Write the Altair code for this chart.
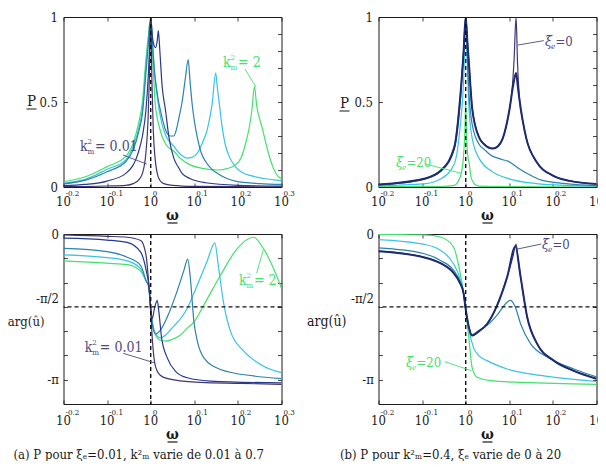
import math
import altair as alt
import pandas as pd

PI = math.pi
W, H = 218, 170
FONT = "DejaVu Serif Condensed, DejaVu Serif"
INK = "#1a1a1a"

C_PURPLE = "#3f3576"
C_NAVY = "#253a8c"
C_NAVY2 = "#1d2b73"
C_TEAL = "#2b82aa"
C_CYAN = "#37c3e4"
C_GREEN = "#43e16d"
C_LAB1 = "#4d4a80"

# ---------- x ticks (log10 of omega) ----------
tick_u = [-0.2, -0.1, 0.0, 0.1, 0.2, 0.3]
tick_exp = ["-0.2", "-0.1", "0", "0.1", "0.2", "0.3"]

# ---------- panel (a) top : P ----------
a1_u = [-0.2, -0.15, -0.1, -0.057, -0.04, -0.0265, -0.019, -0.011, -0.006, -0.003, 0.0, 0.003, 0.006, 0.01, 0.015, 0.021, 0.03, 0.05, 0.1, 0.2, 0.3]
a1_p = [0.002, 0.003, 0.006, 0.01, 0.02, 0.045, 0.08, 0.2, 0.4, 0.65, 1.0, 0.6, 0.33, 0.17, 0.08, 0.04, 0.02, 0.01, 0.004, 0.002, 0.001]
a2_u = [-0.2, -0.15, -0.1, -0.057, -0.0265, -0.019, -0.011, -0.005, -0.002, 0.0, 0.004, 0.008, 0.011, 0.015, 0.0176, 0.021, 0.026, 0.034, 0.042, 0.053, 0.065, 0.072, 0.09, 0.126, 0.2, 0.3]
a2_p = [0.008, 0.015, 0.035, 0.08, 0.22, 0.3, 0.45, 0.68, 0.85, 1.0, 0.88, 0.83, 0.82, 0.86, 0.92, 0.8, 0.6, 0.45, 0.29, 0.17, 0.11, 0.08, 0.05, 0.025, 0.01, 0.005]
a3_u = [-0.2, -0.15, -0.1, -0.057, -0.04, -0.0265, -0.019, -0.011, -0.005, 0.0, 0.004, 0.008, 0.015, 0.025, 0.035, 0.045, 0.053, 0.058, 0.065, 0.072, 0.08, 0.086, 0.09, 0.095, 0.1, 0.107, 0.116, 0.126, 0.14, 0.156, 0.175, 0.194, 0.25, 0.3]
a3_p = [0.018, 0.04, 0.09, 0.15, 0.22, 0.335, 0.43, 0.67, 0.85, 1.0, 0.85, 0.7, 0.55, 0.42, 0.33, 0.3, 0.3, 0.33, 0.41, 0.5, 0.65, 0.75, 0.63, 0.49, 0.39, 0.29, 0.2, 0.15, 0.105, 0.075, 0.05, 0.035, 0.02, 0.015]
a4_u = [-0.2, -0.15, -0.1, -0.057, -0.04, -0.0265, -0.019, -0.011, -0.005, 0.0, 0.004, 0.008, 0.015, 0.025, 0.035, 0.053, 0.065, 0.075, 0.083, 0.095, 0.107, 0.117, 0.13, 0.141, 0.149, 0.153, 0.156, 0.163, 0.171, 0.18, 0.194, 0.21, 0.232, 0.26, 0.3]
a4_p = [0.022, 0.045, 0.104, 0.16, 0.24, 0.355, 0.46, 0.71, 0.88, 0.99, 0.85, 0.7, 0.53, 0.38, 0.3, 0.24, 0.2, 0.18, 0.17, 0.175, 0.2, 0.25, 0.34, 0.49, 0.67, 0.58, 0.52, 0.37, 0.25, 0.18, 0.12, 0.085, 0.065, 0.05, 0.037]
a5_u = [-0.2, -0.15, -0.1, -0.057, -0.04, -0.0265, -0.019, -0.011, -0.005, -0.002, 0.002, 0.006, 0.01, 0.02, 0.035, 0.053, 0.072, 0.09, 0.118, 0.156, 0.175, 0.194, 0.207, 0.217, 0.226, 0.232, 0.238, 0.243, 0.255, 0.263, 0.27, 0.28, 0.293, 0.3]
a5_p = [0.031, 0.06, 0.12, 0.18, 0.26, 0.39, 0.5, 0.75, 0.9, 0.97, 0.9, 0.7, 0.5, 0.35, 0.25, 0.21, 0.16, 0.13, 0.11, 0.1, 0.108, 0.13, 0.17, 0.25, 0.35, 0.45, 0.59, 0.48, 0.355, 0.27, 0.2, 0.12, 0.06, 0.05]

# ---------- panel (a) bottom : arg(u) ----------
b1_u = [-0.2, -0.1, -0.054, -0.023, -0.015, -0.0096, -0.005, -0.0005, 0.004, 0.0087, 0.0156, 0.027, 0.057, 0.114, 0.2, 0.3]
b1_v = [-0.02, -0.05, -0.07, -0.14, -0.28, -0.53, -1.0, -1.57, -2.3, -2.75, -2.97, -3.08, -3.15, -3.2, -3.22, -3.24]
b2_u = [-0.2, -0.1, -0.054, -0.023, -0.0096, -0.0044, -0.0005, 0.0034, 0.0087, 0.015, 0.019, 0.025, 0.038, 0.057, 0.084, 0.137, 0.3]
b2_v = [-0.09, -0.13, -0.18, -0.39, -0.82, -1.1, -1.5, -1.83, -1.6, -1.43, -1.7, -2.24, -2.67, -2.96, -3.1, -3.17, -3.21]
b3_u = [-0.2, -0.1, -0.054, -0.023, -0.0096, -0.0044, -0.0005, 0.004, 0.011, 0.02, 0.038, 0.061, 0.076, 0.085, 0.091, 0.099, 0.107, 0.122, 0.16, 0.236, 0.3]
b3_v = [-0.31, -0.38, -0.5, -0.68, -1.03, -1.15, -1.6, -1.95, -2.16, -2.1, -1.79, -1.22, -0.79, -0.54, -0.96, -1.88, -2.31, -2.67, -2.92, -3.06, -3.12]
b4_u = [-0.2, -0.1, -0.054, -0.023, -0.0096, -0.0044, -0.0005, 0.006, 0.015, 0.0225, 0.035, 0.045, 0.084, 0.107, 0.13, 0.147, 0.156, 0.168, 0.183, 0.214, 0.259, 0.3]
b4_v = [-0.45, -0.51, -0.58, -0.75, -1.03, -1.1, -1.6, -2.0, -2.2, -2.24, -2.17, -2.07, -1.6, -1.1, -0.57, -0.19, -0.75, -1.53, -2.1, -2.53, -2.85, -2.99]
b5_u = [-0.2, -0.1, -0.054, -0.023, -0.0096, -0.0044, -0.0005, 0.008, 0.02, 0.035, 0.05, 0.065, 0.084, 0.099, 0.122, 0.16, 0.198, 0.236, 0.259, 0.282, 0.3]
b5_v = [-0.58, -0.63, -0.66, -0.8, -1.03, -1.1, -1.65, -2.1, -2.28, -2.31, -2.27, -2.2, -2.03, -1.9, -1.53, -0.89, -0.32, -0.07, -0.32, -0.75, -1.17]

# ---------- panel (b) top : P ----------
c1_u = [-0.2, -0.096, -0.057, -0.026, -0.0125, -0.005, 0.0, 0.004, 0.0076, 0.015, 0.031, 0.043, 0.062, 0.074, 0.085, 0.1, 0.106, 0.111, 0.1155, 0.119, 0.124, 0.13, 0.139, 0.162, 0.2, 0.239, 0.3]
c1_p = [0.014, 0.048, 0.097, 0.236, 0.53, 0.79, 1.0, 0.85, 0.72, 0.46, 0.29, 0.25, 0.226, 0.24, 0.286, 0.45, 0.56, 0.75, 1.0, 0.72, 0.5, 0.4, 0.286, 0.15, 0.067, 0.036, 0.018]
c2_u = [-0.2, -0.096, -0.057, -0.026, -0.0125, -0.005, 0.0, 0.004, 0.0076, 0.015, 0.031, 0.043, 0.062, 0.074, 0.085, 0.1, 0.109, 0.1155, 0.12, 0.123, 0.139, 0.162, 0.2, 0.239, 0.3]
c2_p = [0.014, 0.048, 0.097, 0.236, 0.53, 0.79, 1.0, 0.85, 0.72, 0.46, 0.29, 0.25, 0.226, 0.24, 0.286, 0.45, 0.6, 0.67, 0.58, 0.52, 0.286, 0.15, 0.067, 0.036, 0.018]
c3_u = [-0.2, -0.096, -0.057, -0.026, -0.0125, -0.005, 0.0, 0.004, 0.0076, 0.015, 0.031, 0.043, 0.062, 0.074, 0.085, 0.097, 0.105, 0.12, 0.143, 0.174, 0.235, 0.3]
c3_p = [0.013, 0.045, 0.092, 0.225, 0.5, 0.78, 1.0, 0.75, 0.55, 0.365, 0.25, 0.22, 0.18, 0.17, 0.16, 0.152, 0.14, 0.112, 0.077, 0.04, 0.018, 0.008]
c4_u = [-0.2, -0.096, -0.057, -0.026, -0.0125, -0.005, 0.0, 0.004, 0.0076, 0.015, 0.031, 0.062, 0.1, 0.162, 0.2, 0.3]
c4_p = [0.008, 0.018, 0.048, 0.137, 0.36, 0.61, 0.97, 0.7, 0.46, 0.286, 0.167, 0.089, 0.048, 0.02, 0.012, 0.005]
c5_u = [-0.2, -0.096, -0.057, -0.026, -0.0125, -0.005, -0.002, 0.0, 0.002, 0.005, 0.008, 0.012, 0.02, 0.031, 0.1, 0.3]
c5_p = [0.002, 0.002, 0.003, 0.01, 0.06, 0.18, 0.32, 0.5, 0.3, 0.18, 0.14, 0.06, 0.018, 0.005, 0.002, 0.001]

# ---------- panel (b) bottom : arg(u) ----------
d1_u = [-0.2, -0.097, -0.058, -0.028, -0.014, -0.0046, -0.0007, 0.007, 0.0145, 0.03, 0.049, 0.072, 0.095, 0.108, 0.1155, 0.121, 0.126, 0.141, 0.164, 0.202, 0.248, 0.3]
d1_v = [-0.37, -0.5, -0.63, -0.84, -1.04, -1.29, -1.57, -2.0, -2.19, -2.1, -1.94, -1.54, -0.93, -0.5, -0.22, -0.6, -0.93, -1.79, -2.37, -2.73, -2.95, -3.12]
d2_u = [-0.2, -0.097, -0.058, -0.028, -0.014, -0.0046, -0.0007, 0.007, 0.0145, 0.03, 0.049, 0.072, 0.095, 0.114, 0.126, 0.141, 0.164, 0.202, 0.248, 0.3]
d2_v = [-0.37, -0.5, -0.63, -0.84, -1.04, -1.29, -1.57, -2.0, -2.19, -2.1, -1.94, -1.54, -0.93, -0.27, -0.93, -1.79, -2.37, -2.73, -2.95, -3.12]
d3_u = [-0.2, -0.097, -0.058, -0.028, -0.014, -0.0046, -0.0007, 0.007, 0.0145, 0.03, 0.049, 0.072, 0.095, 0.103, 0.114, 0.126, 0.149, 0.187, 0.248, 0.3]
d3_v = [-0.30, -0.42, -0.57, -0.78, -1.0, -1.29, -1.57, -2.0, -2.17, -2.08, -1.97, -1.75, -1.47, -1.43, -1.58, -1.94, -2.37, -2.65, -2.91, -3.08]
d4_u = [-0.2, -0.097, -0.058, -0.028, -0.014, -0.0046, -0.0007, 0.007, 0.018, 0.03, 0.049, 0.095, 0.172, 0.3]
d4_v = [-0.12, -0.22, -0.35, -0.64, -0.93, -1.29, -1.57, -2.05, -2.45, -2.62, -2.73, -2.91, -3.05, -3.18]
d5_u = [-0.2, -0.097, -0.058, -0.028, -0.014, -0.0046, -0.0007, 0.007, 0.0145, 0.026, 0.057, 0.133, 0.3]
d5_v = [-0.01, -0.02, -0.065, -0.28, -0.78, -1.29, -1.6, -2.22, -2.87, -3.09, -3.16, -3.2, -3.24]

# ---------- annotations (data coordinates) ----------
ann_a_top_lo = (-0.162, 0.212)
ptr_a_top_lo = ([-0.0635, -0.009], [0.188, 0.135])
ann_a_top_hi = (0.166, 0.706)
ptr_a_top_hi = ([0.216, 0.2415], [0.694, 0.588])
ann_a_bot_lo = (-0.151, -2.544)
ptr_a_bot_lo = ([-0.063, 0.0076], [-2.572, -2.775])
ann_a_bot_hi = (0.2025, -1.10)
ptr_a_bot_hi = ([0.243, 0.258], [-0.847, -0.345])
ann_b_top_0 = (0.182, 0.829)
ptr_b_top_0 = ([0.179, 0.12], [0.861, 0.835])
ann_b_top_20 = (-0.16, 0.118)
ptr_b_top_20 = ([-0.0917, -0.0108], [0.135, 0.081])
ann_b_bot_0 = (0.175, -0.323)
ptr_b_bot_0 = ([0.1734, 0.116], [-0.216, -0.33])
ann_b_bot_20 = (-0.137, -2.867)
ptr_b_bot_20 = ([-0.048, 0.013], [-2.753, -2.947])

XS = alt.Scale(domain=[-0.2, 0.3], nice=False, zero=False)
YS_P = alt.Scale(domain=[0, 1], nice=False, zero=False)
YS_A = alt.Scale(domain=[-7 * PI / 6, 0], nice=False, zero=False)


def ax(orient, values, labels=False, **kw):
    return alt.Axis(orient=orient, values=values, labels=labels, ticks=True,
                    tickSize=4, offset=-4, domain=False, grid=False, title=None,
                    tickColor=INK, tickWidth=0.8, labelOverlap=False, **kw)


def curve(u, v, color, ys, width=1.2, xaxis=None, yaxis=None):
    df = pd.DataFrame({"u": u, "v": v})
    return alt.Chart(df).mark_line(color=color, strokeWidth=width,
                                   interpolate="monotone", clip=True).encode(
        x=alt.X("u:Q", scale=XS, axis=xaxis),
        y=alt.Y("v:Q", scale=ys, axis=yaxis))


def pointer(p, color, ys):
    df = pd.DataFrame({"u": p[0], "v": p[1]})
    return alt.Chart(df).mark_line(color=color, strokeWidth=0.9).encode(
        x=alt.X("u:Q", scale=XS, axis=None),
        y=alt.Y("v:Q", scale=ys, axis=None))


def txt_at(pos, s, color, ys, size=13, dx=0, dy=0, style="normal"):
    df = pd.DataFrame({"u": [pos[0]], "v": [pos[1]], "t": [s]})
    return alt.Chart(df).mark_text(font=FONT, fontSize=size, color=color, align="left",
                                   baseline="alphabetic", dx=dx, dy=dy,
                                   fontStyle=style).encode(
        x=alt.X("u:Q", scale=XS, axis=None),
        y=alt.Y("v:Q", scale=ys, axis=None), text="t:N")


def km_label(pos, val, color, ys):
    return [txt_at(pos, "k", color, ys, 14),
            txt_at(pos, "2", color, ys, 8, dx=7.5, dy=-7),
            txt_at(pos, "m", color, ys, 8, dx=7.5, dy=3),
            txt_at(pos, "= " + val, color, ys, 14, dx=15)]


def xi_label(pos, val, color, ys):
    return [txt_at(pos, "ξ", color, ys, 14, style="italic"),
            txt_at(pos, "e", color, ys, 8, dx=6, dy=3, style="italic"),
            txt_at(pos, "=" + val, color, ys, 13, dx=10.5)]


def pix_text(s, x, y, size=13, align="left", baseline="alphabetic", weight="normal",
             color=INK, style="normal"):
    df = pd.DataFrame({"t": [s]})
    return alt.Chart(df).mark_text(font=FONT, fontSize=size, align=align, baseline=baseline,
                                   fontWeight=weight, color=color, fontStyle=style).encode(
        x=alt.value(x), y=alt.value(y), text="t:N")


def underline(x1, x2, y, width=1.2):
    return alt.Chart(pd.DataFrame({"k": [0]})).mark_rule(color=INK, strokeWidth=width).encode(
        x=alt.value(x1), x2=alt.value(x2), y=alt.value(y))


def xlabels(yb, ye):
    df = pd.DataFrame({"u": tick_u, "e": tick_exp})
    base = alt.Chart(df)
    t10 = base.mark_text(text="10", font=FONT, fontSize=13, align="center",
                         baseline="alphabetic", color=INK).encode(
        x=alt.X("u:Q", scale=XS, axis=None), y=alt.value(yb))
    te = base.mark_text(font=FONT, fontSize=8, align="left", baseline="alphabetic",
                        dx=2, color=INK).encode(
        x=alt.X("u:Q", scale=XS, axis=None), y=alt.value(ye), text="e:N")
    return [t10, te]


def vdash():
    return alt.Chart(pd.DataFrame({"u": [0.0]})).mark_rule(
        color="#111", strokeWidth=1.4, strokeDash=[4, 3]).encode(
        x=alt.X("u:Q", scale=XS, axis=None))


def hdash():
    return alt.Chart(pd.DataFrame({"v": [-PI / 2]})).mark_rule(
        color="#111", strokeWidth=1.4, strokeDash=[4, 3]).encode(
        y=alt.Y("v:Q", scale=YS_A, axis=None))


def omega_title(y):
    return [pix_text("ω", W / 2, y, size=15, align="center", weight="bold"),
            underline(W / 2 - 5, W / 2 + 5, y + 3)]


def p_title(x, y):
    return [pix_text("P", x, y, size=15, align="center"),
            underline(x - 5, x + 5, y + 3, 1.0)]


p_left = ax("left", [0, 0.5, 1], labels=True, labelFont=FONT, labelFontSize=13,
            labelPadding=6, labelColor=INK, format="~g")
p_right = ax("right", [i / 10 for i in range(11)])
a_vals = [-k * PI / 6 for k in range(8)]
a_left = ax("left", a_vals, labels=True, labelFont=FONT, labelFontSize=13, labelPadding=5,
            labelColor=INK,
            labelExpr="abs(datum.value) < 0.01 ? '0' : abs(datum.value + 1.5708) < 0.01 ? '-π/2' : abs(datum.value + 3.1416) < 0.01 ? '-π' : ''",
            labelOffset={"condition": {"test": "abs(datum.value + 1.5708) < 0.01", "value": -8}, "value": 0})
a_right = ax("right", a_vals)
x_bot = ax("bottom", tick_u)
x_top = ax("top", tick_u)


def panel(layers):
    return alt.layer(*layers).resolve_axis(x="independent", y="independent").properties(width=W, height=H)


# ---- (a) top
a_top = panel([
    curve(a5_u, a5_p, C_GREEN, YS_P, xaxis=x_bot, yaxis=p_left),
    curve(a4_u, a4_p, C_CYAN, YS_P, xaxis=x_top, yaxis=p_right),
    curve(a3_u, a3_p, C_TEAL, YS_P),
    curve(a2_u, a2_p, C_NAVY, YS_P),
    curve(a1_u, a1_p, C_PURPLE, YS_P),
    vdash(),
    pointer(ptr_a_top_lo, C_LAB1, YS_P),
    pointer(ptr_a_top_hi, C_GREEN, YS_P),
    *km_label(ann_a_top_lo, "0.01", C_LAB1, YS_P),
    *km_label(ann_a_top_hi, "2", C_GREEN, YS_P),
    *xlabels(H + 19, H + 9),
    *p_title(-32, 89),
    *omega_title(H + 33),
])

# ---- (b) top
b_top = panel([
    curve(c5_u, c5_p, C_GREEN, YS_P, xaxis=x_bot, yaxis=p_left),
    curve(c4_u, c4_p, C_CYAN, YS_P, xaxis=x_top, yaxis=p_right),
    curve(c3_u, c3_p, C_TEAL, YS_P),
    curve(c1_u, c1_p, C_PURPLE, YS_P),
    curve(c2_u, c2_p, C_NAVY2, YS_P, width=2),
    vdash(),
    pointer(ptr_b_top_0, C_LAB1, YS_P),
    pointer(ptr_b_top_20, C_GREEN, YS_P),
    *xi_label(ann_b_top_0, "0", C_LAB1, YS_P),
    *xi_label(ann_b_top_20, "20", C_GREEN, YS_P),
    *xlabels(H + 19, H + 9),
    *p_title(-34, 91),
    *omega_title(H + 33),
])

# ---- (a) bottom
a_bot = panel([
    curve(b5_u, b5_v, C_GREEN, YS_A, xaxis=x_bot, yaxis=a_left),
    curve(b4_u, b4_v, C_CYAN, YS_A, xaxis=x_top, yaxis=a_right),
    curve(b3_u, b3_v, C_TEAL, YS_A),
    curve(b2_u, b2_v, C_NAVY, YS_A),
    curve(b1_u, b1_v, C_PURPLE, YS_A),
    vdash(), hdash(),
    pointer(ptr_a_bot_lo, C_LAB1, YS_A),
    pointer(ptr_a_bot_hi, C_GREEN, YS_A),
    *km_label(ann_a_bot_lo, "0.01", C_LAB1, YS_A),
    *km_label(ann_a_bot_hi, "2", C_GREEN, YS_A),
    *xlabels(H + 21, H + 10.5),
    pix_text("arg(û)", -19, 92, size=13, align="right"),
    *omega_title(H + 35),
    pix_text("(a) P pour ξₑ=0.01, k²ₘ varie de 0.01 à 0.7", -50, H + 55, size=13),
])

# ---- (b) bottom
b_bot = panel([
    curve(d5_u, d5_v, C_GREEN, YS_A, xaxis=x_bot, yaxis=a_left),
    curve(d4_u, d4_v, C_CYAN, YS_A, xaxis=x_top, yaxis=a_right),
    curve(d3_u, d3_v, C_TEAL, YS_A),
    curve(d1_u, d1_v, C_PURPLE, YS_A),
    curve(d2_u, d2_v, C_NAVY2, YS_A, width=2),
    vdash(), hdash(),
    pointer(ptr_b_bot_0, C_LAB1, YS_A),
    pointer(ptr_b_bot_20, C_GREEN, YS_A),
    *xi_label(ann_b_bot_0, "0", C_LAB1, YS_A),
    *xi_label(ann_b_bot_20, "20", C_GREEN, YS_A),
    *xlabels(H + 21, H + 10.5),
    pix_text("arg(û)", -32, 92, size=14, align="right"),
    *omega_title(H + 35),
    pix_text("(b) P pour k²ₘ=0.4, ξₑ varie de 0 à 20", -38.5, H + 55, size=13),
])

chart = alt.concat(a_top, b_top, a_bot, b_bot, columns=2,
                   spacing={"row": 47, "column": 97}, bounds="flush").properties(
    autosize=alt.AutoSizeParams(type="none"),
    padding={"left": 55.5, "top": 9, "right": 534.5, "bottom": 444},
    background="white",
).configure_view(stroke=INK, strokeWidth=1)

chart.save("out.html", embed_options={"renderer": "svg", "actions": False})
